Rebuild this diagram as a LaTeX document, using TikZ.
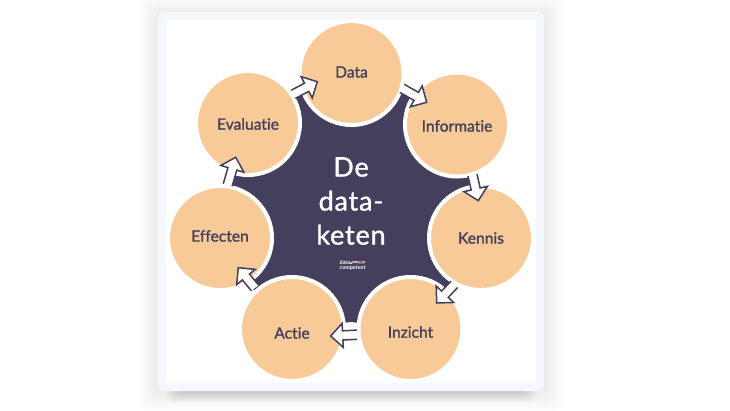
\documentclass[tikz,border=0pt]{standalone}
\usepackage{fontspec}
\setmainfont[Ligatures=NoCommon]{Lato}
\usetikzlibrary{calc}
\definecolor{navy}{HTML}{433F5C}
\definecolor{peach}{HTML}{F8CA98}
\definecolor{cardedge}{HTML}{F4F8FC}
\tikzset{
  x=1pt,y=-1pt,
  stepcircle/.style={circle,minimum size=104pt,inner sep=0pt,outer sep=0pt,fill=peach,draw=white,line width=4pt,text=navy,font=\fontsize{15.6}{18}\selectfont\addfontfeature{FakeBold=1.3}},
  hollowarrow/.style={draw=navy,line width=1.5pt,line join=miter,fill=none},
  hubtext/.style={text=white,font=\fontsize{27}{34}\selectfont\addfontfeature{LetterSpace=3,FakeBold=1.2},align=center,inner sep=0pt},
}
\newcommand{\shiftlbl}[2]{\raisebox{#1}[\height][\depth]{#2}}
% hollow arrow: from point #1 to point #2, open at the tail
\newcommand{\hollowconn}[2]{%
  \path let \p1=($(#2)-(#1)$), \n1={atan2(\y1,\x1)}, \n2={veclen(\x1,\y1)} in
    \pgfextra{\xdef\hcang{\n1}\xdef\hclen{\n2}} coordinate (hcs) at (#1);
  \begin{scope}[shift={(hcs)},rotate=\hcang]
    \fill[white] (0,-4.6) -- ({\hclen-12},-4.6) -- ({\hclen-12},-12) -- (\hclen,0) -- ({\hclen-12},12) -- ({\hclen-12},4.6) -- (0,4.6) -- cycle;
    \draw[hollowarrow] (0,-4.6) -- ({\hclen-12},-4.6) -- ({\hclen-12},-12) -- (\hclen,0) -- ({\hclen-12},12) -- ({\hclen-12},4.6) -- (0,4.6);
  \end{scope}}
\begin{document}
\begin{tikzpicture}
\useasboundingbox (0,0) rectangle (730,410);
\fill[white] (0,0) rectangle (730,410);
% soft card shadow
\foreach \g in {1,...,20}{
  \fill[black,opacity=.0035,rounded corners=10pt] ({158-\g},{12-\g+3}) rectangle ({544+\g},{391+\g});
}
\foreach \g in {1,...,12}{
  \fill[black,opacity=.011,rounded corners=6pt] ({178-\g},380) rectangle ({524+\g},{391+\g});
}
\fill[cardedge,rounded corners=5pt] (158,12) rectangle (544,391);
\fill[white] (166,20) rectangle (536,383);
% step nodes
\coordinate (cData) at (351.5,73);
\coordinate (cInfo) at (457,124.5);
\coordinate (cKennis) at (481,238);
\coordinate (cInzicht) at (410.5,329);
\coordinate (cActie) at (292,329);
\coordinate (cEffecten) at (220,238);
\coordinate (cEval) at (248,123);
\fill[navy] (cData) -- (408,92) -- (cInfo) -- (474,176) -- (cKennis) -- (450,288) -- (cInzicht) -- (351,322) -- (cActie) -- (250,286) -- (cEffecten) -- (233,176) -- (cEval) -- (296,91) -- cycle;
\node[stepcircle] (data) at (cData) {\shiftlbl{1pt}{Data}};
\node[stepcircle] (info) at (cInfo) {\shiftlbl{-1.5pt}{Informatie}};
\node[stepcircle] (kennis) at (cKennis) {Kennis};
\node[stepcircle] (inzicht) at (cInzicht) {\shiftlbl{-3pt}{Inzicht}};
\node[stepcircle] (actie) at (cActie) {\shiftlbl{-4pt}{Actie}};
\node[stepcircle] (effecten) at (cEffecten) {\shiftlbl{2pt}{Effecten}};
\node[stepcircle] (eval) at (cEval) {\shiftlbl{-1pt}{Evaluatie}};
% hub
\node[hubtext] (hub) at (351,201) {De\\data-\\keten};
% logo
\node[text=white,font=\fontsize{5.4}{4.8}\selectfont\bfseries,align=left,inner sep=0pt,anchor=west] (logo) at (339.5,265.5) {data\\competent};
\draw[cardedge,line width=.6pt] (350,264) .. controls (354,260.5) and (358,264.5) .. (365,262.5);
\draw[peach,line width=.6pt] (350,262.8) .. controls (354,259.3) and (358,263.3) .. (365,261.3);
% connectors
\hollowconn{$(data)+(50.5,15.3)$}{$(info)+(-30.3,-22.2)$}
\hollowconn{$(info)+(15.5,50.5)$}{$(kennis)+(-2.7,-37.3)$}
\hollowconn{$(kennis)+(-26.7,46.3)$}{$(inzicht)+(26.2,-26)$}
\hollowconn{$(inzicht)+(-53.5,5.7)$}{$(actie)+(38.7,7)$}
\hollowconn{$(actie)+(-37,-41)$}{$(effecten)+(18.3,29.7)$}
\hollowconn{$(effecten)+(7.7,-53)$}{$(eval)+(-12.3,34.3)$}
\hollowconn{$(eval)+(45.3,-28.7)$}{$(data)+(-34.2,8.7)$}
\end{tikzpicture}
\end{document}
